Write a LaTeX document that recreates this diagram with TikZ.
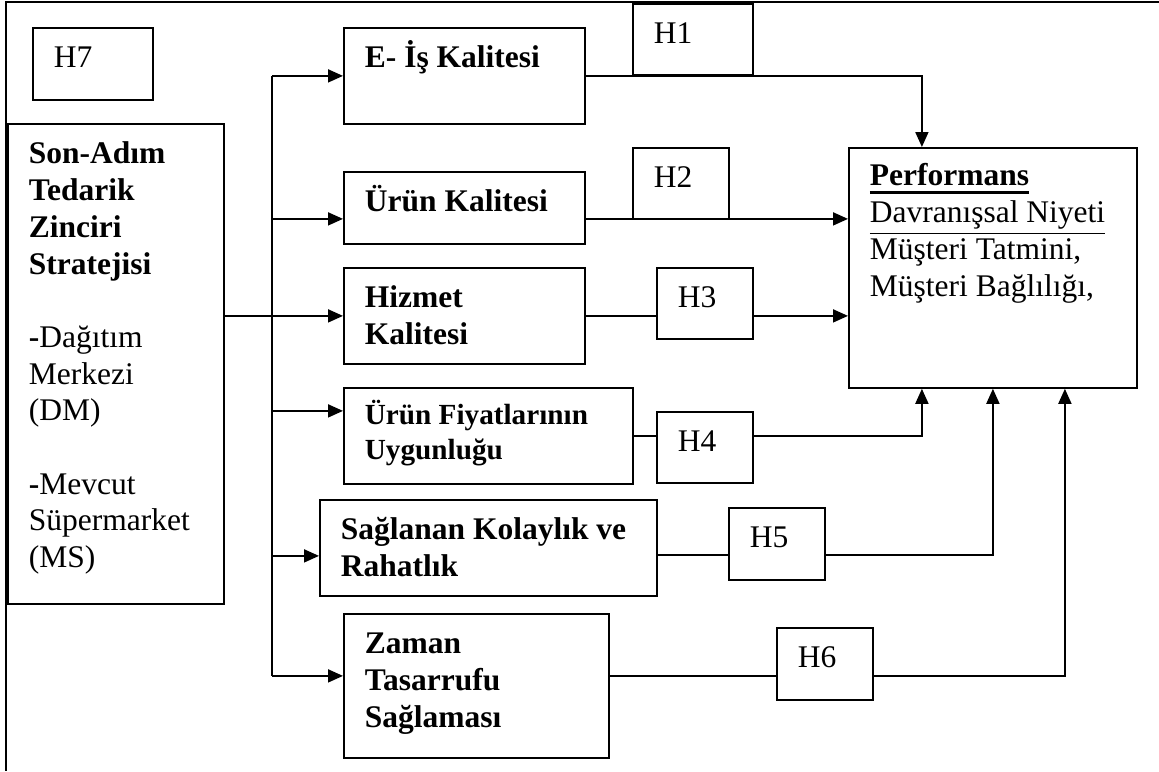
\documentclass[tikz,border=0pt]{standalone}
\usepackage{fontspec}
\setmainfont{Liberation Serif}
\newcommand{\ulin}[3]{\leavevmode\setbox0\hbox{#3}\rlap{\rule[-#1]{\wd0}{#2}}\box0}
\usetikzlibrary{arrows.meta}
\tikzstyle{arr} = [line width=1.8pt,->,>={Triangle[length=15pt,width=13pt]}]
\tikzstyle{blk} = [draw, line width=1.8pt, anchor=north west, inner xsep=21pt, inner ysep=0pt, text height=40pt, align=flush left, font=\fontsize{31.5pt}{36.7pt}\selectfont\bfseries]
\tikzstyle{hyp} = [blk, font=\fontsize{31.5pt}{36.7pt}\selectfont]

\begin{document}
\begin{tikzpicture}[x=1pt,y=-1pt]
\useasboundingbox (0,0) rectangle (1159,771);
\draw[line width=2pt] (1159,2) -- (6,2) -- (6,771);

\node[hyp, text width=78pt, text depth=32pt] (h7) at (32,27) {H7};
\node[blk, text width=174pt, text depth=440pt] (src) at (7,123) {Son-Adım\\Tedarik\\Zinciri\\Stratejisi\\[36.7pt]-\normalfont Dağıtım\\Merkezi\\(DM)\\[36.7pt]\textbf{-}Mevcut\\Süpermarket\\(MS)};

\node[blk, text width=199pt, text depth=56pt] (ei) at (343,27) {E- İş Kalitesi};
\node[blk, text width=199pt, text depth=32pt] (uk) at (343,171) {Ürün Kalitesi};
\node[blk, text width=199pt, text depth=56pt] (hiz) at (343,267) {Hizmet\\Kalitesi};
\node[blk, text width=247pt, text height=37pt, text depth=59pt, font=\fontsize{29.2pt}{35pt}\selectfont\bfseries] (uf) at (343,387) {Ürün Fiyatlarının\\Uygunluğu};
\node[blk, text width=295pt, text depth=56pt] (sk) at (319,499) {Sağlanan Kolaylık ve\\Rahatlık};
\node[blk, text width=223pt, text depth=104pt] (zt) at (343,613) {Zaman\\Tasarrufu\\Sağlaması};

\node[hyp, text width=78pt, text depth=31pt] (h1) at (632,3) {H1};
\node[hyp, text width=54pt, text depth=31pt] (h2) at (632,147) {H2};
\node[hyp, text width=54pt, text depth=31pt] (h3) at (656,267) {H3};
\node[hyp, text width=54pt, text depth=31pt] (h4) at (656,411) {H4};
\node[hyp, text width=54pt, text depth=32pt] (h5) at (728,507) {H5};
\node[hyp, text width=54pt, text depth=32pt] (h6) at (776,627) {H6};

\node[hyp, text width=246pt, text height=38pt, text depth=202pt] (perf) at (848,147) {\ulin{8pt}{2.6pt}{\textbf{Performans}}\\\ulin{11.5pt}{1.5pt}{Davranışsal Niyeti}\\Müşteri Tatmini,\\Müşteri Bağlılığı,};

% bus from the strategy box
\coordinate (bus) at (272,0);
\coordinate (uk-in) at ([yshift=-11pt]uk.west);
\coordinate (uf-in) at ([yshift=25pt]uf.west);
\coordinate (sk-in) at ([yshift=-8pt]sk.west);
\coordinate (zt-in) at ([yshift=10pt]zt.west);
\draw[line width=1.8pt] (bus |- ei.west) -- (bus |- zt-in);
\draw[arr] (src.east |- hiz.west) -- (hiz.west);
\draw[arr] (bus |- ei.west) -- (ei.west);
\draw[arr] (bus |- uk-in) -- (uk-in);
\draw[arr] (bus |- uf-in) -- (uf-in);
\draw[arr] (bus |- sk-in) -- (sk-in);
\draw[arr] (bus |- zt-in) -- (zt-in);

% hypotheses into performance
\coordinate (sk-out) at ([yshift=-7pt]sk.east);
\coordinate (zt-out) at ([yshift=10pt]zt.east);
\draw[arr] (ei.east) -| ([xshift=-71pt]perf.north);
\draw[arr] (uk-in -| uk.east) -- (uk-in -| perf.west);
\draw[line width=1.8pt] (hiz.east) -- (hiz.east -| h3.west);
\draw[arr] (hiz.east -| h3.east) -- (hiz.east -| perf.west);
\draw[line width=1.8pt] (uf.east) -- (uf.east -| h4.west);
\draw[arr] (uf.east -| h4.east) -| ([xshift=-71pt]perf.south);
\draw[line width=1.8pt] (sk-out) -- (sk-out -| h5.west);
\draw[arr] (sk-out -| h5.east) -| (perf.south);
\draw[line width=1.8pt] (zt-out) -- (zt-out -| h6.west);
\draw[arr] (zt-out -| h6.east) -| ([xshift=72pt]perf.south);
\end{tikzpicture}
\end{document}
